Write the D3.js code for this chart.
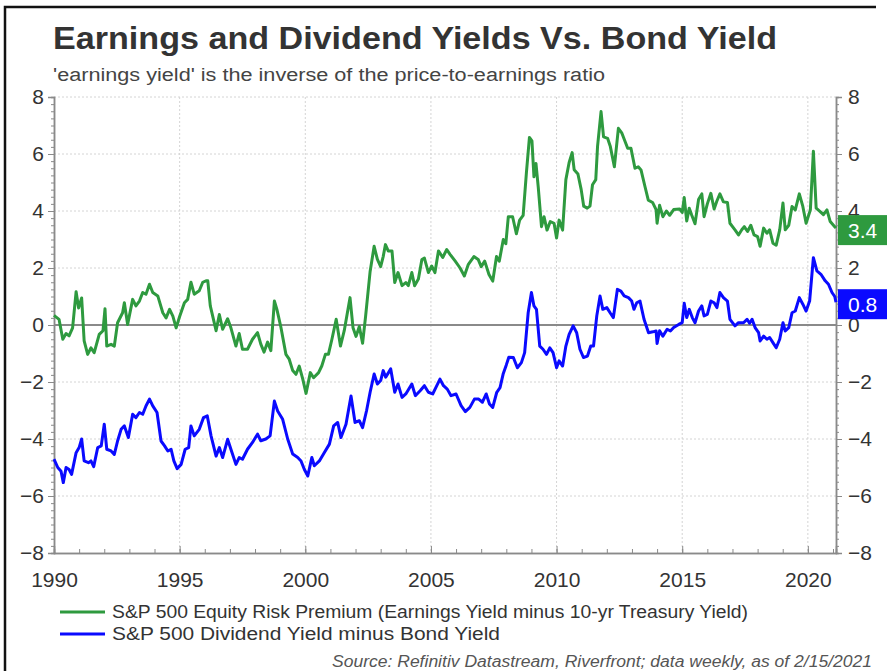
<!DOCTYPE html>
<html>
<head>
<meta charset="utf-8">
<script src="https://cdn.jsdelivr.net/npm/d3@7"></script>
<style>
  body { margin: 0; background: #fff; }
  svg { display: block; font-family: "Liberation Sans", Arial, sans-serif; }
</style>
</head>
<body>
<svg id="chart" width="887" height="671"></svg>
<script>
// S&P 500 equity risk premium: [year, value]
const erpPoints = [
  [1990.0,0.34],[1990.2,0.2],[1990.35,-0.5],[1990.48,-0.3],[1990.6,-0.38],[1990.74,-0.1],[1990.88,1.17],[1990.98,0.6],
  [1991.1,0.95],[1991.2,-0.56],[1991.34,-1.03],[1991.47,-0.8],[1991.6,-0.97],[1991.8,-0.33],[1991.95,-0.2],
  [1992.03,0.57],[1992.1,-0.74],[1992.27,-0.68],[1992.4,-0.74],[1992.53,0.08],[1992.73,0.43],[1992.8,0.78],[1992.93,0.02],
  [1993.13,0.9],[1993.26,0.67],[1993.4,0.84],[1993.53,1.14],[1993.66,1.08],[1993.8,1.43],[1993.93,1.14],
  [1994.13,1.02],[1994.33,0.43],[1994.46,0.25],[1994.6,0.55],[1994.73,0.31],[1994.86,-0.1],
  [1995.0,0.3],[1995.19,0.78],[1995.32,0.9],[1995.45,1.5],[1995.58,1.08],[1995.78,1.2],[1995.92,1.5],
  [1996.05,1.55],[1996.12,1.55],[1996.22,0.67],[1996.45,-0.2],[1996.58,0.37],[1996.71,-0.15],[1996.91,0.22],
  [1997.04,-0.1],[1997.24,-0.74],[1997.37,-0.3],[1997.5,-0.85],[1997.7,-0.85],[1997.9,-0.5],
  [1998.1,-0.27],[1998.23,-0.67],[1998.36,-0.95],[1998.5,-0.6],[1998.63,-0.9],[1998.77,0.84],[1998.87,0.55],
  [1999.03,-0.08],[1999.23,-1.03],[1999.36,-1.2],[1999.5,-1.6],[1999.63,-1.73],[1999.76,-1.44],[1999.9,-1.9],
  [2000.03,-2.4],[2000.2,-1.67],[2000.33,-1.85],[2000.53,-1.67],[2000.66,-1.43],[2000.8,-1.03],[2000.92,-1.03],
  [2001.06,-0.5],[2001.23,0.2],[2001.4,-0.74],[2001.55,-0.2],[2001.78,0.96],[2001.9,-0.1],
  [2002.02,-0.4],[2002.15,-0.05],[2002.28,-0.64],[2002.4,0.3],[2002.58,1.88],[2002.74,2.76],[2002.87,2.3],
  [2003.0,2.05],[2003.1,2.4],[2003.19,2.82],[2003.3,2.6],[2003.45,2.6],[2003.56,1.49],[2003.69,1.84],[2003.85,1.38],
  [2004.0,1.49],[2004.1,1.38],[2004.24,1.84],[2004.35,1.38],[2004.5,1.61],[2004.64,2.3],[2004.74,2.35],[2004.9,1.84],
  [2005.03,2.07],[2005.16,1.84],[2005.3,2.6],[2005.47,2.37],[2005.63,2.65],[2005.76,2.48],[2005.96,2.25],
  [2006.16,2.0],[2006.33,1.72],[2006.49,2.13],[2006.71,2.4],[2006.88,2.3],
  [2007.0,2.05],[2007.14,2.24],[2007.31,1.77],[2007.46,1.54],[2007.61,2.4],[2007.72,2.24],[2007.88,3.0],[2007.98,2.85],
  [2008.08,3.8],[2008.25,3.8],[2008.4,3.2],[2008.53,3.68],[2008.67,3.85],[2008.8,5.35],[2008.92,6.58],
  [2009.02,6.46],[2009.1,5.2],[2009.18,5.67],[2009.27,4.85],[2009.4,3.45],[2009.5,3.8],[2009.62,3.33],[2009.75,3.63],[2009.9,3.57],
  [2010.0,3.05],[2010.1,3.68],[2010.24,3.33],[2010.37,5.1],[2010.5,5.7],[2010.62,6.05],[2010.7,5.45],[2010.85,5.3],[2010.98,4.75],
  [2011.08,4.17],[2011.22,4.1],[2011.33,4.17],[2011.43,4.92],[2011.56,5.1],[2011.63,6.26],[2011.77,7.49],[2011.87,6.6],
  [2012.03,6.55],[2012.14,6.26],[2012.3,5.55],[2012.46,6.9],[2012.6,6.73],[2012.73,6.43],[2012.83,6.2],[2012.96,6.2],
  [2013.12,5.5],[2013.25,5.55],[2013.36,5.44],[2013.52,4.85],[2013.65,4.38],[2013.82,4.3],[2013.96,4.05],
  [2014.0,3.57],[2014.1,4.2],[2014.23,3.8],[2014.37,4.0],[2014.5,3.85],[2014.66,4.05],[2014.9,4.07],
  [2015.0,3.95],[2015.08,4.47],[2015.18,3.65],[2015.28,4.1],[2015.38,3.85],[2015.51,3.55],[2015.65,4.4],[2015.78,4.6],[2015.87,3.8],
  [2016.0,4.25],[2016.14,4.62],[2016.27,4.07],[2016.38,4.35],[2016.5,4.6],[2016.64,4.32],[2016.8,4.3],[2016.9,3.57],
  [2017.1,3.34],[2017.24,3.16],[2017.37,3.34],[2017.47,3.45],[2017.6,3.28],[2017.73,3.5],[2017.86,3.16],
  [2018.0,3.1],[2018.1,2.76],[2018.24,3.4],[2018.37,3.22],[2018.48,3.34],[2018.61,2.87],[2018.74,2.8],[2018.88,3.34],
  [2019.01,4.28],[2019.1,3.34],[2019.24,3.5],[2019.37,4.16],[2019.5,4.04],[2019.66,4.6],[2019.8,4.16],[2019.93,3.57],
  [2020.1,4.04],[2020.22,6.1],[2020.33,4.1],[2020.49,3.98],[2020.62,3.87],[2020.76,4.04],[2020.89,3.63],
  [2021.07,3.45],[2021.12,3.4]
];

// S&P 500 dividend yield minus bond yield: [year, value]
const dyPoints = [
  [1990.0,-4.71],[1990.15,-5.0],[1990.28,-5.13],[1990.37,-5.53],[1990.48,-5.0],[1990.6,-5.07],[1990.7,-5.24],[1990.88,-4.48],
  [1991.0,-4.3],[1991.1,-4.0],[1991.2,-4.77],[1991.37,-4.83],[1991.47,-4.77],[1991.58,-4.97],[1991.74,-4.3],[1991.88,-4.24],
  [1992.0,-3.48],[1992.1,-4.36],[1992.27,-4.42],[1992.4,-4.54],[1992.53,-4.07],[1992.67,-3.66],[1992.8,-3.54],[1992.96,-3.95],
  [1993.13,-3.13],[1993.26,-3.25],[1993.4,-3.07],[1993.53,-3.13],[1993.66,-2.84],[1993.8,-2.6],[1993.93,-2.84],
  [1994.1,-3.07],[1994.26,-4.07],[1994.4,-4.24],[1994.53,-4.42],[1994.66,-4.36],[1994.77,-4.77],[1994.9,-5.04],
  [1995.06,-4.89],[1995.22,-4.36],[1995.36,-4.3],[1995.45,-3.54],[1995.58,-3.89],[1995.78,-3.66],[1995.95,-3.25],
  [1996.1,-3.19],[1996.25,-3.89],[1996.45,-4.6],[1996.58,-4.3],[1996.71,-4.65],[1996.91,-4.01],
  [1997.04,-4.36],[1997.24,-4.89],[1997.37,-4.65],[1997.5,-4.71],[1997.7,-4.36],[1997.9,-4.12],
  [1998.1,-3.83],[1998.23,-4.06],[1998.43,-4.0],[1998.6,-3.89],[1998.77,-2.67],[1998.9,-3.02],
  [1999.1,-3.31],[1999.3,-4.0],[1999.5,-4.53],[1999.7,-4.65],[1999.83,-4.77],[1999.96,-5.06],
  [2000.1,-5.3],[2000.26,-4.65],[2000.36,-4.94],[2000.56,-4.77],[2000.76,-4.47],[2000.96,-4.18],
  [2001.13,-3.54],[2001.29,-3.42],[2001.42,-3.95],[2001.62,-3.48],[2001.82,-2.49],[2001.98,-3.42],
  [2002.15,-3.36],[2002.28,-3.6],[2002.44,-3.0],[2002.58,-2.36],[2002.74,-1.72],[2002.87,-2.07],
  [2003.0,-1.95],[2003.1,-1.6],[2003.2,-1.83],[2003.4,-1.54],[2003.56,-2.36],[2003.69,-2.07],[2003.85,-2.54],
  [2004.0,-2.42],[2004.24,-2.07],[2004.38,-2.48],[2004.58,-2.3],[2004.74,-2.13],[2004.9,-2.36],
  [2005.07,-2.42],[2005.2,-2.19],[2005.36,-1.9],[2005.5,-2.13],[2005.65,-2.25],[2005.8,-2.48],
  [2006.0,-2.42],[2006.2,-2.83],[2006.37,-3.04],[2006.55,-2.89],[2006.73,-2.6],[2006.9,-2.6],
  [2007.05,-2.71],[2007.2,-2.42],[2007.33,-2.77],[2007.46,-2.89],[2007.62,-2.36],[2007.75,-2.2],[2007.88,-1.7],
  [2008.0,-1.4],[2008.1,-1.13],[2008.28,-1.14],[2008.44,-1.5],[2008.6,-1.32],[2008.73,-0.97],[2008.87,0.43],
  [2009.0,1.14],[2009.1,0.67],[2009.2,0.55],[2009.33,-0.74],[2009.46,-0.85],[2009.6,-1.03],[2009.73,-0.8],[2009.86,-0.97],
  [2010.0,-1.5],[2010.1,-1.26],[2010.24,-1.44],[2010.37,-0.74],[2010.5,-0.33],[2010.66,-0.03],[2010.8,-0.27],[2010.93,-0.85],
  [2011.07,-1.14],[2011.23,-1.09],[2011.36,-0.74],[2011.47,-0.74],[2011.6,0.32],[2011.73,1.02],[2011.84,0.55],
  [2012.0,0.61],[2012.13,0.43],[2012.26,0.26],[2012.42,1.25],[2012.56,1.19],[2012.69,1.02],[2012.86,0.96],[2012.99,0.84],
  [2013.08,0.55],[2013.19,0.78],[2013.32,0.84],[2013.48,0.2],[2013.66,-0.27],[2013.83,-0.24],[2013.96,-0.21],
  [2014.0,-0.65],[2014.1,-0.2],[2014.23,-0.39],[2014.4,-0.15],[2014.53,-0.21],[2014.66,-0.09],[2014.86,0.02],
  [2015.0,0.08],[2015.08,0.76],[2015.18,0.26],[2015.28,0.55],[2015.4,0.26],[2015.51,0.08],[2015.65,0.49],[2015.78,0.67],[2015.87,0.32],
  [2016.0,0.37],[2016.14,0.84],[2016.27,0.78],[2016.38,0.61],[2016.5,1.14],[2016.64,0.96],[2016.8,0.84],[2016.9,0.2],
  [2017.1,-0.03],[2017.24,0.08],[2017.44,0.08],[2017.58,0.2],[2017.68,0.06],[2017.78,0.2],[2017.9,-0.09],
  [2018.04,-0.27],[2018.1,-0.56],[2018.24,-0.39],[2018.37,-0.5],[2018.48,-0.44],[2018.61,-0.62],[2018.74,-0.8],[2018.88,-0.5],
  [2019.01,0.08],[2019.1,-0.21],[2019.24,-0.09],[2019.37,0.43],[2019.5,0.49],[2019.66,0.96],[2019.8,0.73],[2019.93,0.49],
  [2020.07,0.84],[2020.22,2.36],[2020.36,1.9],[2020.52,1.78],[2020.69,1.55],[2020.82,1.43],[2020.96,1.14],
  [2021.07,1.0],[2021.12,0.8]
];

const yearTicks = [1990, 1995, 2000, 2005, 2010, 2015, 2020];
const valueTicks = [-8, -6, -4, -2, 0, 2, 4, 6, 8];
const seriesNames = [
  "S&P 500 Equity Risk Premium (Earnings Yield minus 10-yr Treasury Yield)",
  "S&P 500 Dividend Yield minus Bond Yield"
];
const seriesColors = ["#2e9a3f", "#0a0aff"];

const svg = d3.select("#chart");
const plot = { left: 54, right: 836, top: 97, bottom: 553 };

const x = d3.scaleLinear().domain([1990, 2021.12]).range([plot.left, plot.right]);
const y = d3.scaleLinear().domain([-8, 8]).range([plot.bottom, plot.top]);

// frame
svg.append("path")
  .attr("d", "M5,671V7H876")
  .attr("fill", "none")
  .attr("stroke", "#111")
  .attr("stroke-width", 2.5);

// titles
svg.append("text")
  .attr("x", 53).attr("y", 49)
  .attr("textLength", 724).attr("lengthAdjust", "spacingAndGlyphs")
  .style("font-size", "32px").style("font-weight", "bold").style("fill", "#333")
  .text("Earnings and Dividend Yields Vs. Bond Yield");

svg.append("text")
  .attr("x", 53).attr("y", 81)
  .attr("textLength", 552).attr("lengthAdjust", "spacingAndGlyphs")
  .style("font-size", "18px").style("fill", "#444")
  .text("'earnings yield' is the inverse of the price-to-earnings ratio");

// grid
svg.append("g").selectAll("line")
  .data(valueTicks.filter(v => v !== 0 && v !== -8))
  .join("line")
  .attr("x1", plot.left).attr("x2", plot.right)
  .attr("y1", d => y(d)).attr("y2", d => y(d))
  .attr("stroke", "#d4d4d4").attr("stroke-dasharray", "2,2");

svg.append("g").selectAll("line")
  .data(yearTicks.filter(d => d > 1990))
  .join("line")
  .attr("x1", d => x(d)).attr("x2", d => x(d))
  .attr("y1", plot.top).attr("y2", plot.bottom)
  .attr("stroke", "#d4d4d4").attr("stroke-dasharray", "2,2");

// zero line
svg.append("line")
  .attr("x1", plot.left).attr("x2", plot.right)
  .attr("y1", y(0)).attr("y2", y(0))
  .attr("stroke", "#8a8a8a").attr("stroke-width", 2);

// axes
function styleAxis(g) {
  g.select(".domain").attr("stroke", "#8a8a8a").attr("stroke-width", 1.5);
  g.selectAll(".tick line").attr("stroke", "#8a8a8a");
  g.selectAll(".tick text").style("font-size", "21px").style("fill", "#333")
    .style("font-family", "'Liberation Sans', Arial, sans-serif");
}

const minorValues = d3.range(-8, 8.001, 0.25);
const minorYears = d3.range(1990, 2022, 1);

svg.append("g").attr("transform", `translate(${plot.left},0)`)
  .call(d3.axisLeft(y).tickValues(minorValues).tickSize(3).tickFormat(""))
  .call(styleAxis);
svg.append("g").attr("transform", `translate(${plot.left},0)`)
  .call(d3.axisLeft(y).tickValues(valueTicks).tickSize(6).tickPadding(4).tickFormat(d3.format("d")))
  .call(styleAxis);

svg.append("g").attr("transform", `translate(${plot.right},0)`)
  .call(d3.axisRight(y).tickValues(minorValues).tickSize(3).tickFormat(""))
  .call(styleAxis);
svg.append("g").attr("transform", `translate(${plot.right},0)`)
  .call(d3.axisRight(y).tickValues(valueTicks).tickSize(6).tickPadding(6).tickFormat(d3.format("d")))
  .call(styleAxis);

svg.append("g").attr("transform", `translate(0,${plot.bottom})`)
  .call(d3.axisBottom(x).tickValues(minorYears).tickSize(-4).tickFormat(""))
  .call(styleAxis);
const xAxis = svg.append("g").attr("transform", `translate(0,${plot.bottom})`)
  .call(d3.axisBottom(x).tickValues(yearTicks).tickSize(-7).tickFormat(d3.format("d")))
  .call(styleAxis);
xAxis.selectAll(".tick text").attr("y", 34).attr("dy", 0);

// series
const line = d3.line().x(d => x(d[0])).y(d => y(d[1]));
[erpPoints, dyPoints].forEach((pts, i) => {
  svg.append("path")
    .datum(pts)
    .attr("d", line)
    .attr("fill", "none")
    .attr("stroke", seriesColors[i])
    .attr("stroke-width", 3)
    .attr("stroke-linejoin", "round");
});

// last value labels
[erpPoints, dyPoints].forEach((pts, i) => {
  const last = pts[pts.length - 1][1];
  const g = svg.append("g").attr("transform", `translate(${plot.right + 2},${y(last)})`);
  g.append("rect")
    .attr("x", 0).attr("y", -13).attr("width", 49).attr("height", 30)
    .attr("fill", seriesColors[i]);
  g.append("text")
    .attr("x", 10).attr("y", 10)
    .style("font-size", "21px").style("fill", "#fff")
    .text(last.toFixed(1));
});

// legend
const legendWidths = [636, 388];
const legend = svg.append("g").attr("transform", "translate(60,612)");
seriesNames.forEach((name, i) => {
  const row = legend.append("g").attr("transform", `translate(0,${i * 22})`);
  row.append("line")
    .attr("x1", 0).attr("x2", 45)
    .attr("stroke", seriesColors[i]).attr("stroke-width", 3);
  row.append("text")
    .attr("x", 52).attr("y", 6)
    .attr("textLength", legendWidths[i]).attr("lengthAdjust", "spacingAndGlyphs")
    .style("font-size", "17.5px").style("fill", "#333")
    .text(name);
});

// source
svg.append("text")
  .attr("x", 872).attr("y", 667)
  .attr("text-anchor", "end")
  .attr("textLength", 540).attr("lengthAdjust", "spacingAndGlyphs")
  .style("font-size", "16px").style("font-style", "italic").style("fill", "#555")
  .text("Source: Refinitiv Datastream, Riverfront; data weekly, as of 2/15/2021");
</script>
</body>
</html>
